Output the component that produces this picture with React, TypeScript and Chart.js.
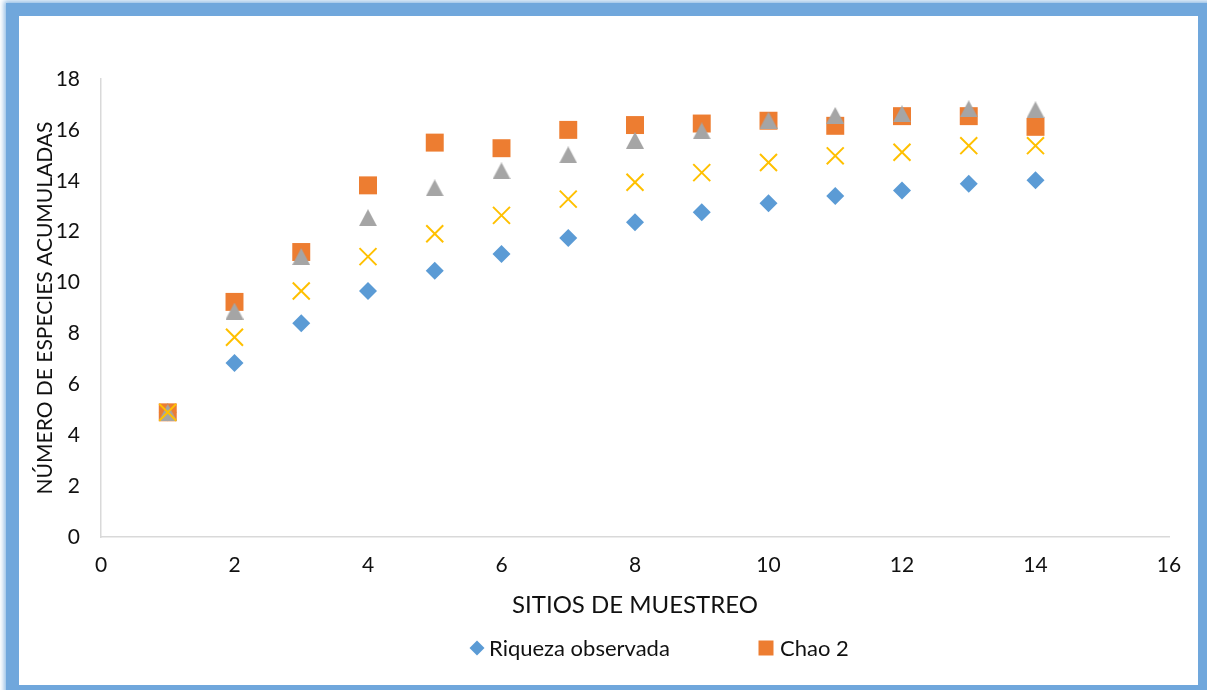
import React, { useEffect, useRef } from "react";
import { Chart, registerables } from "chart.js";

Chart.register(...registerables);

const sitios = [1, 2, 3, 4, 5, 6, 7, 8, 9, 10, 11, 12, 13, 14];
const riquezaObservada = [4.9, 6.84, 8.4, 9.67, 10.46, 11.12, 11.75, 12.37, 12.76, 13.12, 13.4, 13.62, 13.88, 14.02];
const chao2 = [4.9, 9.24, 11.2, 13.82, 15.5, 15.28, 16.0, 16.19, 16.25, 16.36, 16.16, 16.54, 16.54, 16.12];
const serieGris = [4.9, 8.88, 11.02, 12.55, 13.72, 14.39, 15.02, 15.59, 15.96, 16.38, 16.57, 16.63, 16.83, 16.79];
const serieAmarilla = [4.9, 7.85, 9.67, 11.02, 11.92, 12.64, 13.28, 13.94, 14.32, 14.72, 14.98, 15.12, 15.38, 15.38];

const seriesLabels = ["Riqueza observada", "Chao 2", "Serie 3", "Serie 4"];
const xTitle = "SITIOS DE MUESTREO";
const yTitle = "NÚMERO DE ESPECIES ACUMULADAS";

const FONT = "Lato, 'Liberation Sans', sans-serif";
const TEXT = "#111111";

const toPoints = (vals: number[]) => sitios.map((x, i) => ({ x, y: vals[i] }));

function makeTriangle(color: string) {
  const w = 18;
  const h = 17;
  const c = document.createElement("canvas");
  c.width = w;
  c.height = h;
  const g = c.getContext("2d")!;
  g.fillStyle = color;
  g.beginPath();
  g.moveTo(w / 2, 0);
  g.lineTo(w, h);
  g.lineTo(0, h);
  g.closePath();
  g.fill();
  return c;
}

const legendPlugin = {
  id: "customLegend",
  afterDraw(chart: any) {
    const ctx = chart.ctx as CanvasRenderingContext2D;
    const y = 632;
    const items = [
      { idx: 0, mx: 458, tx: 470, shape: "diamond" },
      { idx: 1, mx: 747, tx: 761, shape: "square" },
    ];
    ctx.save();
    ctx.font = `22px ${FONT}`;
    ctx.textBaseline = "middle";
    ctx.textAlign = "left";
    items.forEach((it) => {
      const ds = chart.data.datasets[it.idx];
      ctx.fillStyle = ds.backgroundColor;
      ctx.beginPath();
      if (it.shape === "diamond") {
        const r = 7.5;
        ctx.moveTo(it.mx, y - r);
        ctx.lineTo(it.mx + r, y);
        ctx.lineTo(it.mx, y + r);
        ctx.lineTo(it.mx - r, y);
        ctx.closePath();
      } else {
        const s = 15;
        ctx.rect(it.mx - s / 2, y - s / 2, s, s);
      }
      ctx.fill();
      ctx.fillStyle = TEXT;
      ctx.fillText(ds.label, it.tx, y + 1);
    });
    ctx.restore();
  },
};

export default function App() {
  const canvasRef = useRef<HTMLCanvasElement | null>(null);

  useEffect(() => {
    document.body.style.margin = "0";
    const canvas = canvasRef.current;
    if (!canvas) return;
    const tri = makeTriangle("#A5A5A5");
    const chart = new Chart(canvas, {
      type: "scatter",
      data: {
        datasets: [
          {
            label: seriesLabels[0],
            data: toPoints(riquezaObservada),
            pointStyle: "rectRot",
            pointRadius: 9,
            pointHoverRadius: 9,
            backgroundColor: "#5B9BD5",
            borderColor: "#5B9BD5",
            borderWidth: 0,
            order: 3,
          },
          {
            label: seriesLabels[1],
            data: toPoints(chao2),
            pointStyle: "rect",
            pointRadius: 12.7,
            pointHoverRadius: 12.7,
            backgroundColor: "#ED7D31",
            borderColor: "#ED7D31",
            borderWidth: 0,
            order: 2,
          },
          {
            label: seriesLabels[2],
            data: toPoints(serieGris),
            pointStyle: tri as any,
            pointRadius: 9,
            pointHoverRadius: 9,
            backgroundColor: "#A5A5A5",
            borderColor: "#A5A5A5",
            borderWidth: 0,
            order: 1,
          },
          {
            label: seriesLabels[3],
            data: toPoints(serieAmarilla),
            pointStyle: "crossRot",
            pointRadius: 12,
            pointHoverRadius: 12,
            backgroundColor: "#FFC000",
            borderColor: "#FFC000",
            borderWidth: 2,
            order: 0,
          },
        ],
      },
      options: {
        animation: false,
        responsive: false,
        maintainAspectRatio: false,
        layout: { padding: { top: 63, left: 0, right: 29, bottom: 58 } },
        plugins: {
          legend: { display: false },
          tooltip: { enabled: false },
        },
        scales: {
          x: {
            type: "linear",
            min: 0,
            max: 16,
            ticks: {
              stepSize: 2,
              padding: 16,
              color: TEXT,
              font: { family: FONT, size: 21 },
            },
            grid: { color: "rgba(0,0,0,0)", drawTicks: false },
            border: { display: true, color: "#d9d9d9", width: 1.5 },
            title: {
              display: true,
              text: xTitle,
              color: TEXT,
              font: { family: FONT, size: 24 },
              padding: { top: 0, bottom: 7 },
            },
            afterFit: (scale: any) => {
              scale.height = 90;
            },
          },
          y: {
            type: "linear",
            min: 0,
            max: 18,
            ticks: {
              stepSize: 2,
              padding: 21,
              color: TEXT,
              font: { family: FONT, size: 21 },
            },
            grid: { color: "rgba(0,0,0,0)", drawTicks: false },
            border: { display: true, color: "#d9d9d9", width: 1.5 },
            title: {
              display: true,
              text: yTitle,
              color: TEXT,
              font: { family: FONT, size: 21 },
              padding: { top: 14, bottom: 0 },
            },
            afterFit: (scale: any) => {
              scale.width = 82;
            },
          },
        },
      },
      plugins: [legendPlugin],
    });
    return () => chart.destroy();
  }, []);

  return (
    <div
      style={{
        position: "fixed",
        left: 0,
        top: 0,
        width: 1207,
        height: 690,
        background: "#ffffff",
        overflow: "hidden",
      }}
    >
      <div
        style={{
          position: "absolute",
          left: 6,
          top: 3,
          width: 1179 + 26,
          height: 669 + 26,
          border: "13px solid #70a7dc",
          boxShadow: "0 0 5px 2px rgba(112,167,220,0.8)",
          boxSizing: "border-box",
          background: "#ffffff",
        }}
      />
      <canvas
        ref={canvasRef}
        width={1179}
        height={669}
        style={{ position: "absolute", left: 19, top: 16, width: 1179, height: 669 }}
      />
    </div>
  );
}
